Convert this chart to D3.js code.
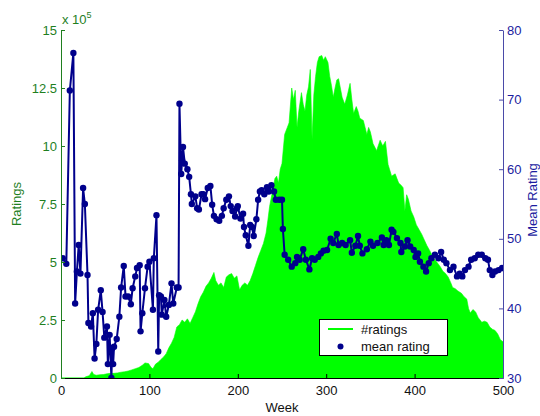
<!DOCTYPE html>
<html>
<head>
<meta charset="utf-8">
<script src="https://cdn.jsdelivr.net/npm/d3@7"></script>
<style>
  html, body { margin: 0; padding: 0; background: #fff; }
  svg { display: block; font-family: "Liberation Sans", Arial, Helvetica, sans-serif; }
</style>
</head>
<body>
<svg id="chart" width="540" height="416"></svg>
<script>
// Weekly number of ratings (in units of 1e5)
const countWeeks = [0,26,28,32,35,37,40,44,48,52,56,60,64,68,72,76,80,84,88,92,95,99,102,104,107,110,113,116,119,122,125,128,131,134,137,140,143,146,149,152,155,158,161,164,167,170,173,175,178,181,184,187,190,193,196,199,202,205,208,211,214,217,220,223,226,229,232,234,236,239,242,244,246,248,250,253,256,258,261,263,265,267,269,272,274,276,278,280,282,284,286,288,290,292,295,297,299,302,304,306,308,310,312,314,316,318,321,324,327,329,331,334,336,338,342,344,346,348,350,353,357,361,364,367,370,374,378,382,385,387,389,391,393,396,399,402,405,408,411,414,417,421,425,429,432,435,438,441,443,446,449,453,456,459,461,463,466,469,472,476,479,482,485,488,491,494,497,500];
const ratingCounts = [0,0,0.05,0.1,0.28,0.15,0.12,0.14,0.15,0.18,0.2,0.2,0.22,0.25,0.27,0.3,0.35,0.4,0.45,0.55,0.65,0.62,0.45,0.4,0.6,0.68,0.8,0.9,1.05,1.3,1.5,1.75,2.2,2.3,2.5,2.4,2.55,2.35,2.6,2.85,3.2,3.5,3.7,3.95,4.1,4.3,4.55,4.2,4.0,4.1,3.9,4.35,4.45,4.5,4.3,4.4,3.8,4.0,4.1,4.0,4.2,4.5,4.85,5.2,5.5,5.8,6.25,6.8,7.4,8.0,8.6,8.7,8.4,9.0,9.25,10.5,10.8,11.0,12.5,12.0,12.4,10.8,11.5,12.3,11.8,11.5,12.2,12.55,13.3,10.3,12.2,13.0,13.6,13.85,13.9,13.7,13.85,13.6,13.0,12.6,12.1,12.5,12.85,12.9,12.5,12.1,11.8,12.2,12.7,12.0,11.4,11.7,11.5,11.2,11.1,10.8,10.5,10.8,10.6,10.1,9.8,10.25,10.0,10.2,9.2,8.7,8.8,8.4,8.3,8.2,7.2,7.9,7.7,7.2,6.95,6.6,6.4,6.2,5.95,5.7,5.5,5.2,5.0,4.8,4.6,4.5,4.35,4.1,3.9,3.85,3.75,3.65,3.5,3.4,3.0,2.8,2.95,2.85,2.6,2.4,2.45,2.4,2.2,2.1,2.05,1.9,1.65,1.56];

// Weekly mean rating
const meanWeeks = [2,6,10,14,16,18,20,22,25,27,30,31,34,36,38,40,42,45,47,49,52,53,55,57,58,59,60,63,66,68,71,73,76,79,81,84,86,89,90,92,95,98,100,104,105,108,110,111,113,114,117,119,122,125,127,131,133,134,136,137,138,140,143,145,147,148,152,154,156,159,161,163,166,169,171,173,176,179,182,184,187,190,192,194,197,199,200,203,206,207,209,212,214,216,218,221,223,225,227,230,233,235,238,241,243,247,250,251,253,257,261,265,267,270,274,277,281,284,287,291,294,297,301,305,308,312,314,318,322,327,329,333,336,338,341,346,350,353,358,363,365,368,371,374,376,380,384,385,389,392,395,399,401,404,406,410,413,416,419,423,427,430,433,436,440,444,448,451,454,457,461,464,468,472,476,480,483,485,488,491,495,499];
const meanRating = [47.2,46.4,71.3,76.7,40.7,45.3,49.1,45.0,57.3,55.0,44.8,37.9,37.4,39.3,32.8,34.9,39.8,42.6,39.5,35.8,37.4,32.0,36.2,30.0,34.3,32.0,34.5,35.6,38.8,43.0,46.1,41.7,41.7,40.6,42.9,44.6,45.8,46.2,36.7,39.3,42.9,46.0,46.7,39.8,47.2,53.4,33.8,41.9,41.7,39.1,41.2,38.8,40.5,43.6,40.7,43.0,43.0,69.4,59.3,61.3,63.2,60.8,60.0,58.9,56.4,55.0,56.1,54.4,54.2,56.4,56.4,55.7,57.3,57.6,54.9,53.3,52.8,52.6,53.3,54.4,55.6,56.1,54.7,54.0,53.2,54.4,54.7,52.9,53.6,51.7,50.5,49.0,52.0,51.7,50.4,52.8,55.6,56.8,57.0,56.4,57.4,56.8,57.7,56.8,55.6,55.6,55.6,51.4,47.7,47.0,46.0,46.5,47.4,47.0,48.5,47.0,45.6,47.2,47.0,47.4,47.9,48.3,48.4,50.0,49.4,50.7,49.1,49.4,49.1,49.8,48.0,49.0,50.4,49.0,47.9,48.5,49.6,49.0,49.4,50.2,49.1,49.8,49.1,51.3,51.0,50.1,49.4,48.1,48.9,49.8,48.9,48.4,47.4,47.9,46.7,46.0,45.3,46.5,47.2,47.7,47.2,48.1,47.0,46.5,45.5,46.0,44.6,45.0,44.6,45.5,46.0,47.0,47.2,47.7,47.7,47.2,47.0,45.5,44.8,45.3,45.5,45.8];

// Axis tick values
const weekTicks = [0, 100, 200, 300, 400, 500];
const countTicks = [0, 2.5, 5, 7.5, 10, 12.5, 15];
const meanTicks = [30, 40, 50, 60, 70, 80];

const countData = countWeeks.map((w, i) => ({ w, v: ratingCounts[i] }));
const meanData = meanWeeks.map((w, i) => ({ w, v: meanRating[i] }));

const plotL = 61, plotR = 503, plotT = 30, plotB = 378;
const GREEN = "#00ff00", NAVY = "#00008c";
const LEFT_AXIS = "#1f7f1f", RIGHT_AXIS = "#1c1ca0";

const svg = d3.select("#chart");
const x = d3.scaleLinear().domain([0, 500]).range([plotL, plotR]);
const yL = d3.scaleLinear().domain([0, 15]).range([plotB, plotT]);
const yR = d3.scaleLinear().domain([30, 80]).range([plotB, plotT]);

svg.append("defs").append("clipPath").attr("id", "plot")
  .append("rect").attr("x", plotL).attr("y", plotT).attr("width", plotR - plotL).attr("height", plotB - plotT);

// #ratings filled area
svg.append("path")
  .datum(countData)
  .attr("clip-path", "url(#plot)")
  .attr("fill", GREEN)
  .attr("stroke", GREEN)
  .attr("stroke-width", 0.6)
  .attr("d", d3.area().x(d => x(d.w)).y0(yL(0)).y1(d => yL(d.v)));

// mean rating line with markers
const meanG = svg.append("g").attr("clip-path", "url(#plot)");
meanG.append("path")
  .datum(meanData)
  .attr("fill", "none")
  .attr("stroke", NAVY)
  .attr("stroke-width", 2)
  .attr("stroke-linejoin", "round")
  .attr("d", d3.line().x(d => x(d.w)).y(d => yR(d.v)));
meanG.selectAll("circle").data(meanData).join("circle")
  .attr("cx", d => x(d.w)).attr("cy", d => yR(d.v)).attr("r", 3.2)
  .attr("fill", NAVY);

// Axes
const fmt = d3.format("~g");
const gx = svg.append("g").attr("transform", `translate(0,${plotB})`)
  .call(d3.axisBottom(x).tickValues(weekTicks).tickSize(-4).tickSizeOuter(0).tickPadding(8).tickFormat(fmt));
gx.selectAll("path, line").attr("stroke", "#000");
gx.selectAll("text").attr("fill", "#111").style("font-size", "13px");

const gl = svg.append("g").attr("transform", `translate(${plotL},0)`)
  .call(d3.axisLeft(yL).tickValues(countTicks).tickSize(-4).tickSizeOuter(0).tickPadding(4).tickFormat(fmt));
gl.selectAll("path, line").attr("stroke", LEFT_AXIS);
gl.selectAll("text").attr("fill", LEFT_AXIS).style("font-size", "13px");

const gr = svg.append("g").attr("transform", `translate(${plotR},0)`)
  .call(d3.axisRight(yR).tickValues(meanTicks).tickSize(-4).tickSizeOuter(0).tickPadding(4).tickFormat(fmt));
gr.selectAll("path, line").attr("stroke", "#4a4aa8");
gr.selectAll("text").attr("fill", RIGHT_AXIS).style("font-size", "13px");

// Exponent label
const expo = svg.append("text").attr("x", 62).attr("y", 24).attr("fill", LEFT_AXIS).style("font-size", "13px");
expo.append("tspan").text("x 10");
expo.append("tspan").attr("dy", -6).style("font-size", "9px").text("5");

// Axis titles
svg.append("text").attr("transform", `translate(21,204) rotate(-90)`)
  .attr("text-anchor", "middle").attr("fill", LEFT_AXIS).style("font-size", "13px").text("Ratings");
svg.append("text").attr("transform", `translate(536.5,200) rotate(-90)`)
  .attr("text-anchor", "middle").attr("fill", RIGHT_AXIS).style("font-size", "13px").text("Mean Rating");
svg.append("text").attr("x", 282).attr("y", 412)
  .attr("text-anchor", "middle").attr("fill", "#111").style("font-size", "13px").text("Week");

// Legend
const lg = svg.append("g");
lg.append("rect").attr("x", 319.5).attr("y", 319.5).attr("width", 128).attr("height", 36)
  .attr("fill", "#fff").attr("stroke", "#000").attr("stroke-width", 1);
lg.append("line").attr("x1", 328).attr("x2", 353).attr("y1", 329).attr("y2", 329)
  .attr("stroke", GREEN).attr("stroke-width", 2);
lg.append("text").attr("x", 361).attr("y", 333.5).attr("fill", "#111").style("font-size", "13px").text("#ratings");
lg.append("circle").attr("cx", 340.5).attr("cy", 346.5).attr("r", 3).attr("fill", NAVY);
lg.append("text").attr("x", 361).attr("y", 351).attr("fill", "#111").style("font-size", "13px").text("mean rating");
</script>
</body>
</html>
